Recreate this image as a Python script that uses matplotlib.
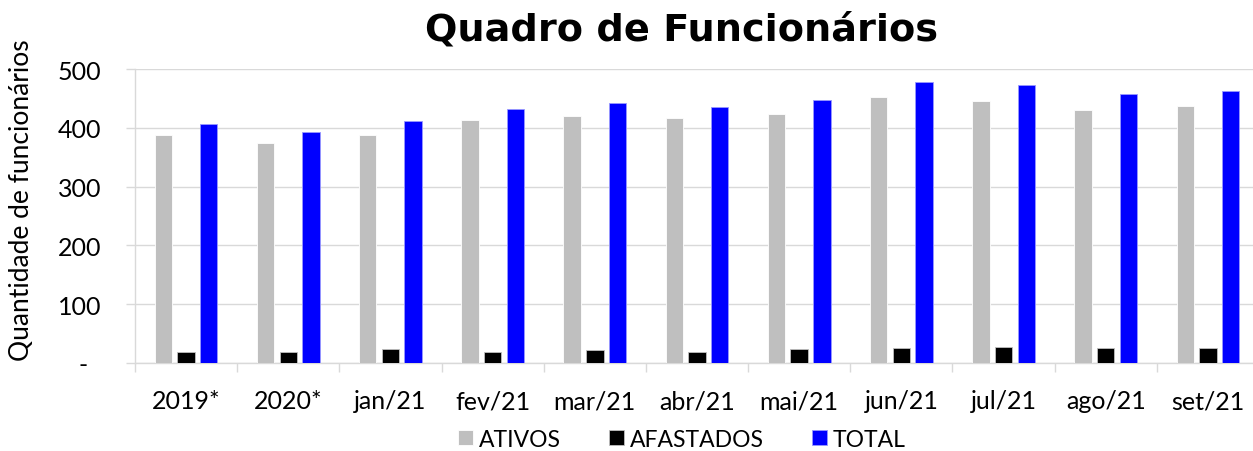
import matplotlib
matplotlib.use("Agg")
import matplotlib.pyplot as plt
import numpy as np

plt.rcParams['font.family'] = ['Lato', 'DejaVu Sans']

meses = ["2019*", "2020*", "jan/21", "fev/21", "mar/21", "abr/21",
         "mai/21", "jun/21", "jul/21", "ago/21", "set/21"]
ativos = [387, 374, 387, 413, 420, 417, 423, 452, 445, 430, 437]
afastados = [19, 19, 23, 19, 22, 18, 24, 26, 27, 26, 26]
total = [406, 393, 411, 432, 443, 436, 448, 478, 472, 457, 463]

fig = plt.figure(figsize=(12.53, 4.52), dpi=100)
# right side of the plot is cut off in the original, so the axes run past the figure
ax = fig.add_axes([135/1253, 88/452, 1124/1253, 294/452])

x = np.arange(len(meses))
w = 0.17
off = 0.222
ax.bar(x - off, ativos, w, color='#bfbfbf', edgecolor='white', linewidth=0.6, label='ATIVOS', zorder=3)
ax.bar(x, afastados, w, color='black', edgecolor='#bfbfbf', linewidth=0.6, label='AFASTADOS', zorder=3)
ax.bar(x + off, total, w, color='#0000ff', edgecolor='#9999ff', linewidth=0.6, label='TOTAL', zorder=3)

ax.set_xlim(-0.5, len(meses) - 0.5)
ax.set_ylim(0, 500)

yt = [0, 100, 200, 300, 400, 500]
ax.set_yticks(yt)
ax.set_yticklabels(["-  "] + [str(v) for v in yt[1:]], fontsize=18)
ax.tick_params(axis='y', length=6.5, color='#d9d9d9', width=1.0, pad=18)
ax.grid(axis='y', color='#d9d9d9', linewidth=1.0, zorder=0)

ax.set_xticks(x)
ax.set_xticklabels(meses, fontsize=18)
ax.tick_params(axis='x', which='major', length=0, pad=19)
ax.set_xticks(np.arange(-0.5, len(meses), 1.0), minor=True)
ax.tick_params(axis='x', which='minor', length=6.5, color='#d9d9d9', width=1.0)

for s in ['top', 'right']:
    ax.spines[s].set_visible(False)
for s in ['left', 'bottom']:
    ax.spines[s].set_color('#d9d9d9')
    ax.spines[s].set_linewidth(1.0)

fig.text(0.544, 0.932, "Quadro de Funcionários", fontsize=27.5, fontweight='bold',
         family='DejaVu Sans', ha='center', va='center')
fig.text(22/1253, (452-200)/452, "Quantidade de funcionários", fontsize=19,
         rotation=90, ha='center', va='center')

fig.legend(loc='center', bbox_to_anchor=(0.544, 0.026), ncol=3, frameon=False,
           fontsize=16.5, handlelength=0.65, handleheight=0.65, handletextpad=0.25,
           columnspacing=2.1)

fig.savefig("out.png", dpi=100)
